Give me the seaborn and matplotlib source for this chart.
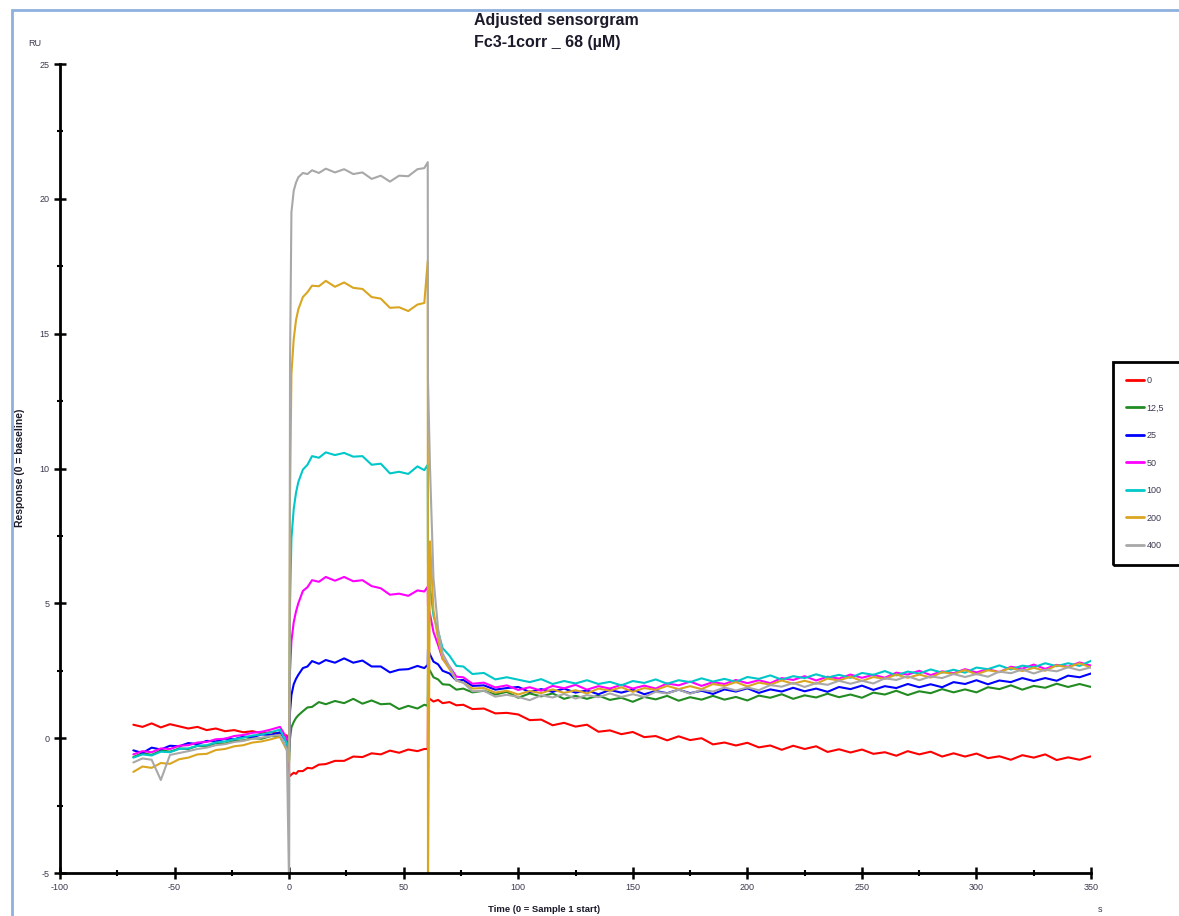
import matplotlib
matplotlib.use("Agg")
import matplotlib.pyplot as plt
from matplotlib.patches import Rectangle
from matplotlib.ticker import MultipleLocator
import seaborn as sns
import pandas as pd

# ---- time base (s) ----
time_baseline = [-68, -64, -60, -56, -52, -48, -44, -40, -36, -32, -28, -24, -20, -16, -12, -8, -4, -1]
time_assoc = [0, 0.4, 1, 2, 3, 4, 6, 8, 10, 13, 16, 20, 24, 28, 32, 36, 40, 44, 48, 52, 56, 59, 60.5, 60.6]
time_dissoc_early = [61.5, 63, 65, 67, 70, 73, 76, 80, 85, 90, 95]
time_dissoc_late = list(range(100, 355, 5))
time_s = time_baseline + time_assoc + time_dissoc_early + time_dissoc_late

concentrations = ["0", "12,5", "25", "50", "100", "200", "400"]
line_colors = ["#ff0000", "#228b22", "#0000ff", "#ff00ff", "#00c8c8", "#daa520", "#a8a8a8"]

# ---- responses (RU) ----
resp_0 = (
    [0.50, 0.42, 0.55, 0.40, 0.52, 0.44, 0.36, 0.42, 0.30, 0.36, 0.26, 0.30, 0.22, 0.26, 0.18, 0.22, 0.15, 0.10]
    + [-1.30, -1.40, -1.35, -1.28, -1.32, -1.22, -1.22, -1.10, -1.12, -0.98, -0.96, -0.84, -0.84, -0.68, -0.70,
       -0.56, -0.60, -0.46, -0.54, -0.42, -0.48, -0.40, -0.40, 1.50]
    + [1.45, 1.36, 1.42, 1.30, 1.34, 1.22, 1.24, 1.08, 1.10, 0.92, 0.94]
    + [0.88, 0.67, 0.69, 0.48, 0.57, 0.43, 0.50, 0.24, 0.29, 0.15,
       0.23, 0.04, 0.08, -0.08, 0.07, -0.07, 0.00, -0.23, -0.16, -0.27,
       -0.17, -0.34, -0.27, -0.43, -0.28, -0.40, -0.30, -0.51, -0.41, -0.53,
       -0.42, -0.58, -0.52, -0.65, -0.48, -0.60, -0.50, -0.68, -0.56, -0.68,
       -0.57, -0.74, -0.67, -0.80, -0.63, -0.72, -0.60, -0.81, -0.71, -0.80,
       -0.67]
)
resp_12_5 = (
    [-0.70, -0.55, -0.62, -0.45, -0.50, -0.38, -0.40, -0.28, -0.30, -0.18, -0.20, -0.10, -0.08, 0.00, -0.02, 0.08, 0.05, -0.35]
    + [-0.80, 0.00, 0.40, 0.60, 0.75, 0.85, 1.00, 1.14, 1.16, 1.34, 1.26, 1.38, 1.30, 1.46, 1.28, 1.40, 1.26,
       1.28, 1.08, 1.20, 1.10, 1.24, 1.20, 2.60]
    + [2.50, 2.26, 2.18, 2.00, 1.98, 1.80, 1.84, 1.70, 1.76, 1.62, 1.72]
    + [1.50, 1.66, 1.55, 1.66, 1.46, 1.57, 1.46, 1.58, 1.42, 1.50,
       1.35, 1.53, 1.44, 1.57, 1.39, 1.52, 1.43, 1.57, 1.43, 1.53,
       1.40, 1.58, 1.50, 1.63, 1.46, 1.59, 1.51, 1.65, 1.52, 1.62,
       1.50, 1.69, 1.62, 1.76, 1.60, 1.74, 1.67, 1.82, 1.70, 1.81,
       1.70, 1.89, 1.82, 1.96, 1.80, 1.94, 1.87, 2.02, 1.90, 2.01,
       1.90]
)
resp_25 = (
    [-0.45, -0.55, -0.35, -0.42, -0.28, -0.30, -0.18, -0.22, -0.10, -0.12, -0.02, -0.04, 0.06, 0.04, 0.14, 0.12, 0.22, -0.15]
    + [-0.50, 1.00, 1.60, 2.00, 2.20, 2.35, 2.60, 2.66, 2.86, 2.76, 2.90, 2.80, 2.96, 2.80, 2.88, 2.66, 2.66,
       2.44, 2.54, 2.56, 2.68, 2.60, 2.72, 3.30]
    + [3.10, 2.84, 2.74, 2.50, 2.40, 2.14, 2.16, 1.94, 1.96, 1.80, 1.86]
    + [1.90, 1.71, 1.82, 1.72, 1.84, 1.69, 1.77, 1.63, 1.79, 1.69,
       1.80, 1.63, 1.75, 1.67, 1.80, 1.67, 1.76, 1.64, 1.81, 1.73,
       1.85, 1.68, 1.81, 1.73, 1.87, 1.74, 1.84, 1.72, 1.90, 1.82,
       1.95, 1.79, 1.93, 1.86, 2.01, 1.89, 2.00, 1.89, 2.08, 2.01,
       2.15, 2.00, 2.14, 2.08, 2.23, 2.12, 2.23, 2.13, 2.32, 2.26,
       2.40]
)
resp_50 = (
    [-0.60, -0.48, -0.52, -0.38, -0.40, -0.28, -0.26, -0.16, -0.14, -0.04, -0.02, 0.08, 0.12, 0.20, 0.24, 0.32, 0.42, 0.00]
    + [-0.40, 2.50, 3.60, 4.30, 4.70, 5.00, 5.46, 5.60, 5.86, 5.80, 5.98, 5.84, 5.98, 5.82, 5.86, 5.64, 5.56,
       5.32, 5.36, 5.28, 5.48, 5.44, 5.62, 4.90]
    + [4.60, 3.94, 3.46, 2.94, 2.66, 2.28, 2.26, 2.02, 2.06, 1.88, 1.96]
    + [1.79, 1.89, 1.76, 1.94, 1.85, 1.98, 1.80, 1.93, 1.84, 1.98,
       1.84, 1.95, 1.84, 2.03, 1.96, 2.10, 1.94, 2.08, 2.01, 2.16,
       2.04, 2.15, 2.04, 2.23, 2.16, 2.30, 2.14, 2.28, 2.21, 2.36,
       2.24, 2.35, 2.24, 2.43, 2.36, 2.50, 2.34, 2.48, 2.41, 2.56,
       2.44, 2.56, 2.45, 2.65, 2.58, 2.73, 2.57, 2.72, 2.65, 2.81,
       2.69]
)
resp_100 = (
    [-0.72, -0.60, -0.64, -0.50, -0.52, -0.40, -0.38, -0.28, -0.26, -0.16, -0.12, -0.04, 0.02, 0.10, 0.14, 0.22, 0.32, -0.20]
    + [-0.50, 5.00, 7.40, 8.50, 9.10, 9.50, 9.96, 10.14, 10.46, 10.40, 10.60, 10.50, 10.58, 10.44, 10.46, 10.14,
       10.18, 9.82, 9.88, 9.80, 10.08, 9.94, 10.14, 6.50]
    + [5.60, 4.54, 3.96, 3.34, 3.06, 2.68, 2.66, 2.38, 2.42, 2.18, 2.26]
    + [2.17, 2.08, 2.19, 2.01, 2.12, 2.03, 2.15, 2.01, 2.09, 1.96,
       2.12, 2.05, 2.18, 2.02, 2.15, 2.08, 2.22, 2.10, 2.20, 2.09,
       2.27, 2.20, 2.33, 2.17, 2.30, 2.23, 2.37, 2.25, 2.35, 2.24,
       2.42, 2.35, 2.49, 2.33, 2.47, 2.40, 2.55, 2.43, 2.54, 2.43,
       2.62, 2.56, 2.70, 2.55, 2.69, 2.63, 2.78, 2.67, 2.78, 2.68,
       2.87]
)
resp_200 = (
    [-1.25, -1.05, -1.10, -0.92, -0.95, -0.78, -0.72, -0.60, -0.58, -0.44, -0.40, -0.30, -0.26, -0.16, -0.12, -0.04, 0.05, -0.45]
    + [-0.90, 9.00, 13.50, 14.80, 15.50, 15.90, 16.36, 16.54, 16.78, 16.76, 16.96, 16.74, 16.90, 16.70, 16.66,
       16.36, 16.30, 15.96, 15.98, 15.84, 16.08, 16.14, 17.70, -5.60]
    + [7.30, 4.74, 3.66, 2.94, 2.56, 2.14, 2.06, 1.84, 1.86, 1.69, 1.76]
    + [1.62, 1.75, 1.67, 1.81, 1.68, 1.78, 1.66, 1.84, 1.76, 1.89,
       1.72, 1.86, 1.79, 1.94, 1.82, 1.93, 1.82, 2.01, 1.94, 2.08,
       1.92, 2.06, 1.99, 2.14, 2.02, 2.13, 2.02, 2.21, 2.14, 2.28,
       2.12, 2.27, 2.20, 2.36, 2.24, 2.36, 2.25, 2.45, 2.38, 2.53,
       2.37, 2.52, 2.45, 2.61, 2.49, 2.61, 2.50, 2.70, 2.63, 2.78,
       2.62]
)
resp_400 = (
    [-0.90, -0.75, -0.80, -1.55, -0.62, -0.55, -0.48, -0.40, -0.35, -0.26, -0.22, -0.14, -0.10, -0.02, 0.02, 0.08, 0.12, -0.40]
    + [-5.60, 14.00, 19.50, 20.30, 20.60, 20.80, 20.96, 20.92, 21.06, 20.96, 21.12, 20.98, 21.10, 20.92, 20.98,
       20.74, 20.86, 20.64, 20.86, 20.84, 21.10, 21.14, 21.36, 13.30]
    + [10.00, 5.94, 4.06, 3.14, 2.66, 2.14, 2.06, 1.74, 1.76, 1.54, 1.61]
    + [1.53, 1.41, 1.59, 1.51, 1.64, 1.47, 1.60, 1.52, 1.66, 1.53,
       1.63, 1.53, 1.72, 1.66, 1.80, 1.65, 1.79, 1.73, 1.88, 1.77,
       1.88, 1.78, 1.97, 1.91, 2.05, 1.90, 2.04, 1.98, 2.13, 2.02,
       2.13, 2.03, 2.22, 2.16, 2.30, 2.15, 2.29, 2.23, 2.38, 2.27,
       2.38, 2.28, 2.47, 2.41, 2.55, 2.40, 2.54, 2.48, 2.63, 2.52,
       2.63]
)

responses = [resp_0, resp_12_5, resp_25, resp_50, resp_100, resp_200, resp_400]

frames = []
for conc, resp in zip(concentrations, responses):
    frames.append(pd.DataFrame({"time": time_s, "response": resp, "conc": conc}))
data = pd.concat(frames, ignore_index=True)

sns.set_theme(style="white")
plt.rcParams["font.family"] = ["Liberation Sans", "DejaVu Sans"]
plt.rcParams["axes.unicode_minus"] = False

fig = plt.figure(figsize=(11.79, 9.16), dpi=100)
ax = fig.add_axes([0.0509, 0.0469, 0.8745, 0.8832])

sns.lineplot(
    data=data, x="time", y="response", hue="conc",
    hue_order=concentrations, palette=line_colors,
    estimator=None, sort=False, linewidth=1.5, ax=ax, legend=False,
)

ax.set_xlim(-100, 350)
ax.set_ylim(-5, 25)
ax.set_xlabel("")
ax.set_ylabel("")
for side in ["top", "right"]:
    ax.spines[side].set_visible(False)
for side in ["left", "bottom"]:
    ax.spines[side].set_color("black")
    ax.spines[side].set_linewidth(2)

ax.xaxis.set_major_locator(MultipleLocator(50))
ax.xaxis.set_minor_locator(MultipleLocator(25))
ax.yaxis.set_major_locator(MultipleLocator(5))
ax.yaxis.set_minor_locator(MultipleLocator(2.5))
ax.tick_params(which="major", direction="inout", length=9, width=1.8, color="black",
               labelsize=6.5, labelcolor="#3a3a50", pad=3)
ax.tick_params(which="minor", direction="inout", length=5, width=1.5, color="black")
ax.tick_params(axis="x", which="both", bottom=True)
ax.tick_params(axis="y", which="both", left=True)

# titles and axis captions
fig.text(474 / 1179, 1 - 20 / 916, "Adjusted sensorgram", ha="left", va="center",
         fontsize=11.5, fontweight="bold", color="#1a1a2a")
fig.text(474 / 1179, 1 - 43 / 916, "Fc3-1corr _ 68 (\u00b5M)", ha="left", va="center",
         fontsize=11.5, fontweight="bold", color="#1a1a2a")
fig.text(35 / 1179, 1 - 43 / 916, "RU", ha="center", va="center", fontsize=6.5, color="#3a3a50")
fig.text(20 / 1179, 1 - 468 / 916, "Response (0 = baseline)", rotation=90,
         ha="center", va="center", fontsize=7.5, fontweight="bold", color="#1a1a2a")
fig.text(544 / 1179, 1 - 909 / 916, "Time (0 = Sample 1 start)", ha="center", va="center",
         fontsize=6.8, fontweight="bold", color="#1a1a2a")
fig.text(1100 / 1179, 1 - 910 / 916, "s", ha="center", va="center", fontsize=6.5, color="#3a3a50")

# legend (its box runs past the right edge of the page)
handles = [plt.Line2D([0], [0], color=c, linewidth=2) for c in line_colors]
leg = fig.legend(handles, concentrations, loc="upper left",
                 bbox_to_anchor=(1126 / 1179, 1 - 376 / 916),
                 fontsize=6.5, frameon=False, handlelength=2.0,
                 handletextpad=0.3, labelspacing=2.05, borderpad=0,
                 borderaxespad=0)
for txt in leg.get_texts():
    txt.set_color("#3a3a50")
fig.patches.append(Rectangle((1113 / 1179, 1 - 565 / 916), 0.1, 203 / 916,
                             transform=fig.transFigure, fill=False,
                             edgecolor="black", linewidth=2, clip_on=False))

# outer page frame
fig.patches.append(Rectangle((12 / 1179, -0.05), 1.2, 1 - 10 / 916 + 0.05,
                             transform=fig.transFigure, fill=False,
                             edgecolor="#8eb0dd", linewidth=2, clip_on=False))

fig.savefig("out.png", dpi=100)
